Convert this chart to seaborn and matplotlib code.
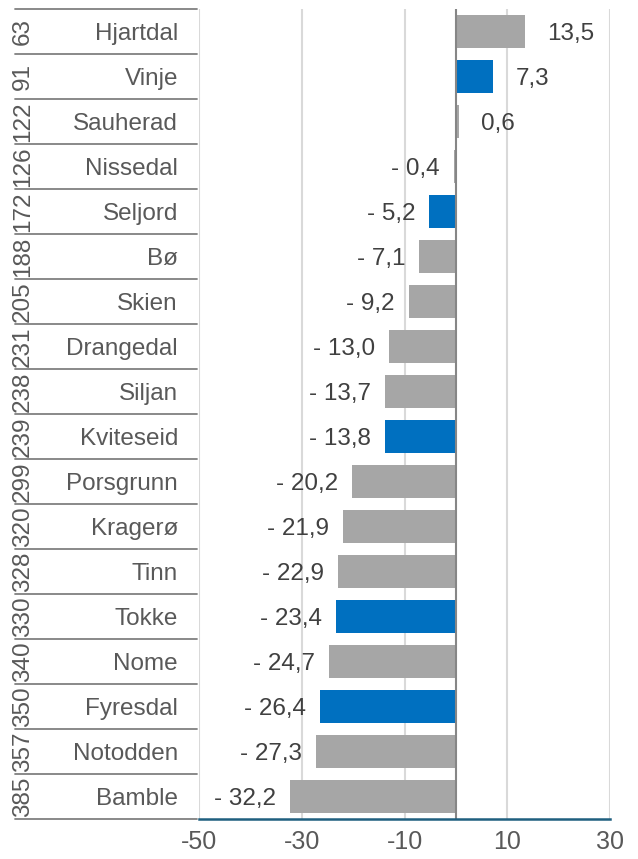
import matplotlib
matplotlib.use("Agg")
import matplotlib.pyplot as plt
import seaborn as sns
import pandas as pd

# data
names = ["Hjartdal", "Vinje", "Sauherad", "Nissedal", "Seljord", "Bø", "Skien",
         "Drangedal", "Siljan", "Kviteseid", "Porsgrunn", "Kragerø", "Tinn",
         "Tokke", "Nome", "Fyresdal", "Notodden", "Bamble"]
ranks = ["63", "91", "122", "126", "172", "188", "205", "231", "238", "239",
         "299", "320", "328", "330", "340", "350", "357", "385"]
values = [13.5, 7.3, 0.6, -0.4, -5.2, -7.1, -9.2, -13.0, -13.7, -13.8,
          -20.2, -21.9, -22.9, -23.4, -24.7, -26.4, -27.3, -32.2]
highlight = ["Vinje", "Seljord", "Kviteseid", "Tokke", "Fyresdal"]
xticks = [-50, -30, -10, 10, 30]

df = pd.DataFrame({"name": names, "value": values})
df["group"] = ["blue" if n in highlight else "grey" for n in names]

sns.set_style("white")
plt.rcParams["font.family"] = ["Liberation Sans", "DejaVu Sans"]

fig = plt.figure(figsize=(6.38, 8.59), dpi=100)
W, H = 638, 859
ax = fig.add_axes([199 / W, (H - 819) / H, 411 / W, 810 / H])

sns.barplot(data=df, x="value", y="name", hue="group", dodge=False, width=0.75,
            palette={"blue": "#0070C0", "grey": "#A6A6A6"}, saturation=1,
            legend=False, orient="h", ax=ax, zorder=3, linewidth=0)

ax.set_xlim(-50, 30)
ax.set_ylim(len(names) - 0.5, -0.5)
ax.set_xticks(xticks)
ax.set_xticklabels([str(t) for t in xticks])
ax.tick_params(axis="x", labelsize=18, colors="#595959", length=0, pad=8)
ax.set_yticks([])
ax.set_xlabel("")
ax.set_ylabel("")
for t in xticks:
    ax.axvline(t, color="#D9D9D9", lw=1.5, zorder=1)
ax.axvline(0, color="#868686", lw=1.5, zorder=4)

for s in ["top", "right", "left"]:
    ax.spines[s].set_visible(False)
ax.spines["bottom"].set_color("#1F5F7F")
ax.spines["bottom"].set_linewidth(1.8)
ax.spines["bottom"].set_zorder(5)

# value labels
for i, v in enumerate(values):
    txt = ("%.1f" % v).replace(".", ",")
    if v < 0:
        txt = "- " + txt[1:]
        ax.annotate(txt, xy=(v, i), xytext=(-14, 0), textcoords="offset pixels",
                    ha="right", va="center_baseline", fontsize=17.5, color="#404040")
    else:
        ax.annotate(txt, xy=(v, i), xytext=(22, 0), textcoords="offset pixels",
                    ha="left", va="center_baseline", fontsize=17.5, color="#404040")

# two-level category labels on the left
ytr = ax.get_yaxis_transform()
x_left = (15 - 199) / 411
x_right = (197 - 199) / 411
for i in range(len(names) + 1):
    ax.plot([x_left, x_right], [i - 0.5, i - 0.5], transform=ytr, color="#808080",
            lw=1.3, clip_on=False)
for i, (r, n) in enumerate(zip(ranks, names)):
    ax.text((23 - 199) / 411, i, r, transform=ytr, rotation=90, ha="center",
            va="center", fontsize=17.5, color="#595959")
    ax.text((178 - 199) / 411, i, n, transform=ytr, ha="right", va="center_baseline",
            fontsize=17.5, color="#595959")

fig.savefig("out.png", dpi=100)
